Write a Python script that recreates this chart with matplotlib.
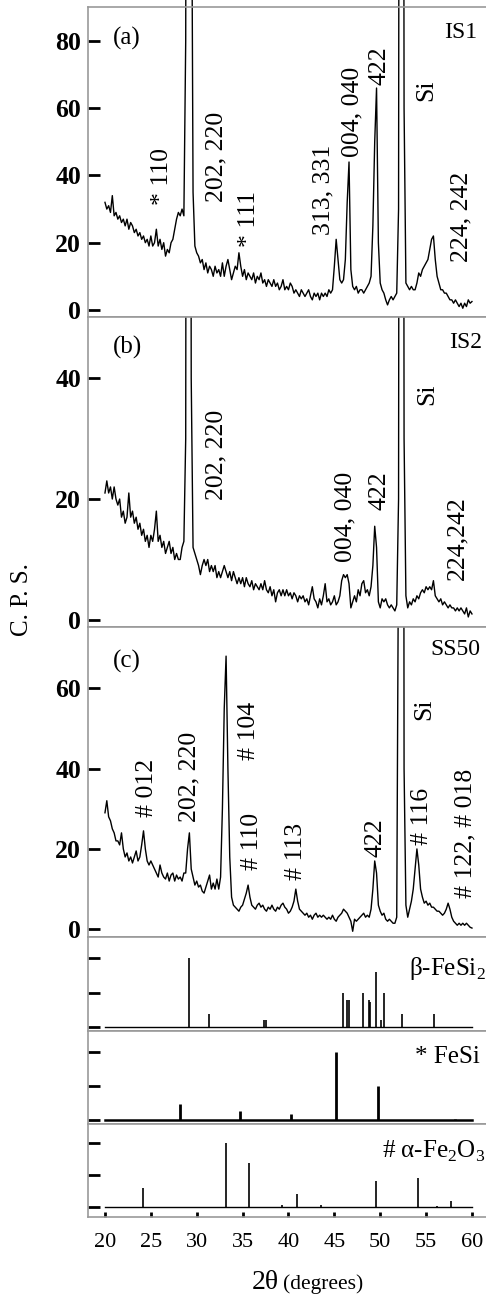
import matplotlib
matplotlib.use("Agg")
import matplotlib.pyplot as plt
import numpy as np

SERIF = ["Liberation Serif", "DejaVu Serif"]
plt.rcParams["font.family"] = SERIF
plt.rcParams["mathtext.fontset"] = "custom"
plt.rcParams["mathtext.rm"] = "Liberation Serif"

# ---- 数据：2θ 扫描 (20–60°, 步长 0.2°)，各样品计数率读自原图 ----
two_theta = np.round(np.arange(20.0, 60.01, 0.2), 1)

is1_cps = [
    32, 30, 31, 29, 34, 28, 29, 27, 28, 26,
    27, 25, 27, 24, 26, 25, 23, 24, 22, 23,
    21, 22, 20, 21, 19, 22, 19, 20, 24, 19,
    21, 18, 20, 16, 18, 17, 20, 21, 24, 27,
    29, 28, 30, 28, 80, 400, 450, 160, 35, 19,
    17, 16, 14, 15, 12, 14, 11, 13, 12, 10,
    13, 11, 12, 10, 14, 10, 13, 15, 12, 9,
    11, 13, 12, 17, 13, 10, 12, 9, 11, 10,
    9, 11, 8, 10, 9, 11, 8, 9, 7, 9,
    8, 7, 9, 7, 8, 6, 7, 9, 6, 7,
    6, 8, 7, 5, 6, 5, 4, 6, 5, 4,
    5, 6, 4, 3, 5, 4, 5, 3, 5, 4,
    5, 4, 6, 5, 6, 13, 21, 15, 9, 8,
    9, 15, 32, 44, 12, 7, 6, 7, 5, 6,
    6, 5, 6, 7, 8, 10, 25, 50, 66, 20,
    8, 6, 5, 3, 1.5, 3, 4, 3, 4, 5,
    30, 500, 500, 60, 8, 7, 6, 7, 6, 6,
    8, 11, 10, 12, 13, 14, 15, 18, 21, 22,
    15, 10, 8, 6, 6, 5, 5, 4, 3, 3,
    2, 3, 2, 1, 2, 0.5, 2, 1, 3, 2,
    2.5,
]

is2_cps = [
    21, 23, 21, 22, 20, 22, 20, 19, 20, 17,
    18, 16, 17, 21, 17, 18, 16, 17, 15, 16,
    14, 15, 13, 14, 12, 14, 13, 15, 18, 13,
    14, 12, 13, 11, 12, 13, 11, 12, 10, 11,
    10, 10, 12, 13, 30, 300, 300, 40, 12, 11,
    10, 9, 7.5, 9, 10, 9, 10, 8, 9, 8,
    9, 7, 8, 7, 8, 9, 8, 7, 8, 6.5,
    8, 7, 6, 7, 6, 7, 5.5, 7, 6, 5.5,
    6.5, 5, 6, 5.5, 5, 6, 5, 6.5, 5, 4.5,
    5.5, 4, 5, 3, 4.5, 5, 4, 5, 4, 5,
    4, 4.5, 3.5, 4.5, 4, 3, 4, 3.5, 4, 3,
    3.5, 2.5, 4, 5.5, 3.5, 3, 2, 3.5, 2.5, 4,
    6, 3, 3.5, 2.5, 3, 4, 2.5, 3, 4, 6.5,
    7.5, 7, 7.5, 6, 2, 3, 4, 3, 5, 4,
    6, 6.5, 4.5, 5, 4, 5.5, 9, 15.5, 12, 3,
    2, 3.5, 3, 3.5, 2.5, 2, 2.5, 2, 1.5, 2.5,
    20, 300, 300, 30, 4, 2, 3, 2.5, 3.5, 3,
    4, 3.5, 4.5, 5, 4.5, 5.5, 5, 5.5, 5, 6.5,
    4, 3.5, 3, 3.5, 2.5, 3, 2.5, 2, 2.5, 2,
    2, 1.5, 2, 1.5, 2, 1.5, 1, 2, 0.5, 1.5,
    1,
]

ss50_cps = [
    29, 32, 28, 27, 25, 24, 22, 22, 21, 24,
    20, 18, 19, 17, 18, 16.5, 18, 19.5, 17, 18,
    21, 24.5, 20, 17, 16, 17, 16, 15, 14, 13,
    16, 14, 13, 12.5, 14, 12, 13.5, 14, 12, 13.5,
    12.5, 13, 12, 14, 14, 20, 24, 15, 13, 11,
    12, 10.5, 11, 9.5, 9, 10.5, 12, 13.5, 10, 11.5,
    10, 12.5, 10, 13, 30, 55, 68, 40, 18, 8,
    6, 5.5, 5, 4.5, 5.5, 6, 7.5, 9, 11, 8,
    6, 5.5, 5, 6, 6.5, 5.5, 6, 5, 4.5, 5.5,
    5, 6, 5, 4.5, 5.5, 5, 6, 6.5, 5.5, 5,
    4, 4.5, 5.5, 7, 10, 7, 5, 4.5, 4, 3.5,
    4, 3, 3.5, 2.5, 3.5, 4, 3, 3.5, 3, 3.5,
    3, 2.5, 3, 2.5, 3.5, 2.5, 2, 3, 3.5, 4,
    5, 4.5, 4, 3, 2, -0.5, 2.5, 2, 2.5, 3,
    3.5, 4, 3, 3.5, 3, 5, 10, 17, 14, 6,
    4.5, 3.5, 4, 2.5, 2, 2.5, 2, 1.5, 1.5, 3,
    100, 500, 500, 40, 6, 3, 5, 7, 10, 15,
    20, 16, 10, 8, 6.5, 7, 6, 6.5, 5.5, 5.5,
    5, 4.5, 4.5, 4, 3.5, 4, 5, 6.5, 5, 3,
    2, 1.5, 1, 1.5, 1, 1.5, 1, 1.5, 1, 0.5,
    0.3,
]

# 标准卡片谱线 (2θ, 相对强度)
beta_pos = [29.16, 31.37, 37.30, 37.55, 45.90, 46.37, 46.56, 48.08, 48.74, 48.90,
            49.53, 50.08, 50.44, 52.33, 55.82]
beta_int = [100, 19, 10, 10, 50, 39, 39, 50, 39, 37, 80, 10, 50, 19, 19]

fesi_pos = [28.14, 34.68, 40.25, 45.18, 49.75, 58.15]
fesi_int = [23, 13, 8, 100, 50, 1.5]

fe2o3_pos = [24.14, 33.22, 35.66, 39.33, 40.96, 43.58, 49.50, 54.15, 56.20, 57.68]
fe2o3_int = [29, 100, 69, 3, 20, 3, 40, 45, 2, 10]

# ---- 画布与布局 ----
W, H = 486, 1296
fig = plt.figure(figsize=(W / 100, H / 100), dpi=100)
L = 88 / W


def add_panel(top, bottom):
    return fig.add_axes([L, 1 - bottom / H, 1 - L, (bottom - top) / H])


def style(ax, ylim, yticks, labels=True):
    ax.set_xlim(18.15, 61.53)
    ax.set_ylim(*ylim)
    ax.set_yticks(yticks)
    if not labels:
        ax.set_yticklabels([])
    for s in ax.spines.values():
        s.set_color("0.6")
        s.set_linewidth(1.2)
    ax.spines["right"].set_visible(False)
    ax.tick_params(axis="y", direction="in", length=8.5, width=2, pad=5,
                   labelsize=18.5)
    for t in ax.get_yticklabels():
        t.set_fontweight("bold")
    ax.tick_params(axis="x", bottom=False, labelbottom=False)


spectra = [
    (is1_cps, (7, 317), (-2.1, 90.1), [0, 20, 40, 60, 80], "(a)", "IS1",
     (0.897, 0.919, 0.977),
     [("* 110", 26.25, 31.2), ("202, 220", 32.17, 32.2), ("* 111", 35.73, 18.8),
      ("313, 331", 43.8, 22.3), ("004, 040", 46.97, 45.6), ("422", 49.97, 66.9),
      ("Si", 55.06, 62.0), ("224, 242", 58.88, 14.4)]),
    (is2_cps, (317, 627), (-1.16, 50.1), [0, 20, 40], "(b)", "IS2",
     (0.903, 0.919, 0.99),
     [("202, 220", 32.17, 19.9), ("004, 040", 46.16, 9.65), ("422", 49.97, 18.2),
      ("Si", 55.15, 35.6), ("224,242", 58.42, 6.6)]),
    (ss50_cps, (627, 937.3), (-2.0, 75.25), [0, 20, 40, 60], "(c)", "SS50",
     (0.89, 0.927, 0.985),
     [("# 012", 24.63, 28.0), ("202, 220", 29.26, 26.8), ("# 104", 35.7, 42.1),
      ("# 110", 35.99, 14.8), ("# 113", 40.8, 12.3), ("422", 49.5, 18.0),
      ("Si", 54.77, 52.0), ("# 116", 54.6, 21.0), ("# 122, # 018", 59.33, 7.7)]),
]

for i, (cps, (top, bot), ylim, yticks, tag, name, (ty, ny, nx), notes) in enumerate(spectra):
    ax = add_panel(top, bot)
    ax.plot(two_theta, cps, color="black", lw=1.0, clip_on=(i != 0))
    style(ax, ylim, yticks)
    ax.text(0.062, ty, tag, transform=ax.transAxes, fontsize=18, ha="left",
            va="center", family=SERIF)
    ax.text(nx, ny, name, transform=ax.transAxes, fontsize=17, ha="right",
            va="center", family=SERIF)
    for s, x, y in notes:
        ax.text(x, y, s, rotation=90, ha="center", va="bottom", fontsize=18.5,
                family=SERIF)

# ---- 标准卡片 ----
cards = [
    (beta_pos, beta_int, (937.3, 1030.7), (-4.9, 130.4), 1.2, 1.0,
     "β-FeSi$_\\mathregular{2}$", (0.999, 0.596)),
    (fesi_pos, fesi_int, (1030.7, 1124.3), (-6.8, 131.0), 2.0, 1.8,
     "* FeSi", (0.985, 0.658)),
    (fe2o3_pos, fe2o3_int, (1124.3, 1217.3), (-16.1, 129.2), 1.2, 1.0,
     "# α-Fe$_\\mathregular{2}$O$_\\mathregular{3}$", (0.999, 0.64)),
]
for j, (pos, inten, (top, bot), ylim, lw, blw, label, (lx, ly)) in enumerate(cards):
    ax = add_panel(top, bot)
    ax.vlines(pos, 0, inten, color="black", lw=lw)
    ax.plot([20, 60], [0, 0], color="black", lw=blw)
    style(ax, ylim, [0, 50, 100], labels=False)
    ax.text(lx, ly, label, transform=ax.transAxes, fontsize=18, ha="right",
            va="baseline", family=SERIF)
    if j == len(cards) - 1:
        ax.set_xticks(range(20, 61, 5))
        ax.tick_params(axis="x", bottom=True, labelbottom=True, direction="in",
                       length=3.5, width=2, pad=11, labelsize=16)

# ---- 坐标轴标题 ----
fig.text(22.5 / W, 1 - 600 / H, "C. P. S.", rotation=90, ha="center", va="center",
         fontsize=18)
fig.text(252 / W, 1 - 1289 / H, "2θ", ha="left", va="baseline", fontsize=20)
fig.text(283 / W, 1 - 1289 / H, "(degrees)", ha="left", va="baseline", fontsize=15.5)

fig.savefig("out.png", dpi=100)
